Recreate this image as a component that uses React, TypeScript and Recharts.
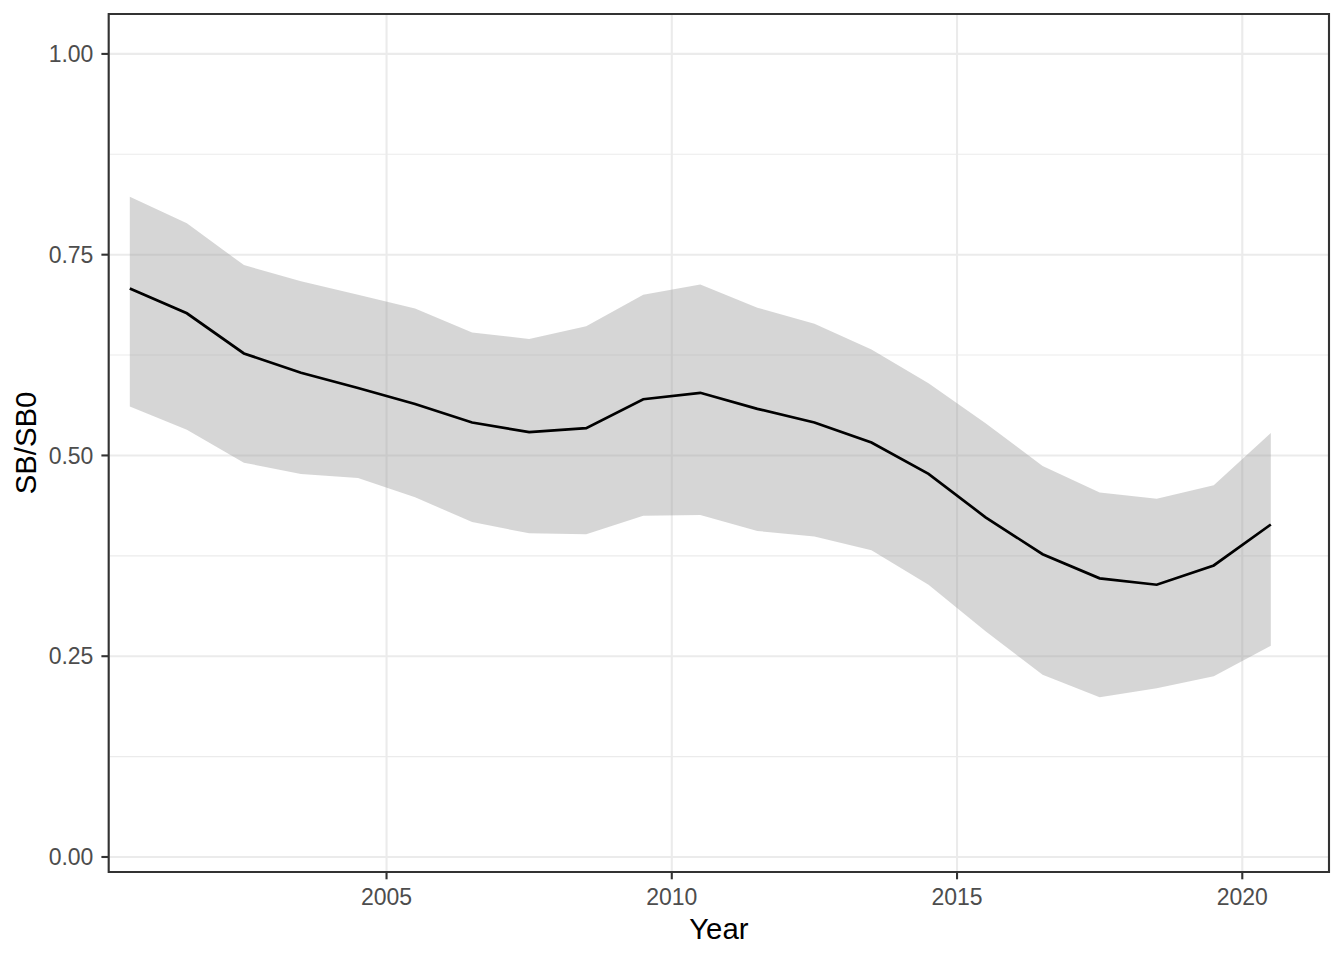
import React from 'react'
import { ComposedChart, Area, Line, XAxis, YAxis, CartesianGrid, ReferenceArea } from 'recharts'

// years are plotted at mid-year
const years = [
  2000.5, 2001.5, 2002.5, 2003.5, 2004.5, 2005.5, 2006.5, 2007.5, 2008.5, 2009.5, 2010.5,
  2011.5, 2012.5, 2013.5, 2014.5, 2015.5, 2016.5, 2017.5, 2018.5, 2019.5, 2020.5,
]
const estimate = [
  0.708, 0.677, 0.627, 0.603, 0.584, 0.564, 0.541, 0.529, 0.534, 0.570, 0.578,
  0.558, 0.541, 0.516, 0.477, 0.423, 0.377, 0.347, 0.339, 0.363, 0.414,
]
const upper = [
  0.822, 0.789, 0.737, 0.717, 0.700, 0.683, 0.653, 0.645, 0.661, 0.700, 0.713,
  0.684, 0.664, 0.632, 0.590, 0.540, 0.487, 0.454, 0.446, 0.463, 0.528,
]
const lower = [
  0.561, 0.532, 0.491, 0.477, 0.472, 0.448, 0.417, 0.403, 0.402, 0.425, 0.426,
  0.406, 0.399, 0.382, 0.339, 0.281, 0.227, 0.199, 0.210, 0.225, 0.263,
]

const xTicks = [2005, 2010, 2015, 2020]
const xMinorTicks = [2002.5, 2007.5, 2012.5, 2017.5]
const yTicks = [0, 0.25, 0.5, 0.75, 1]
const yMinorTicks = [0.125, 0.375, 0.625, 0.875]

const X_DOMAIN: [number, number] = [2000.13, 2021.52]
const Y_DOMAIN: [number, number] = [-0.0187, 1.0497]

const data = years.map((year, i) => ({
  year,
  est: estimate[i],
  band: [lower[i], upper[i]],
}))

const FONT = '"Liberation Sans", Arial, sans-serif'
const tickStyle = { fontSize: 23, fill: '#4D4D4D', fontFamily: FONT }

export default function App() {
  return (
    <div style={{ position: 'absolute', left: 0, top: 0 }}>
      <ComposedChart
        width={1344}
        height={960}
        data={data}
        margin={{ top: 14, right: 15, left: 0, bottom: 0 }}
      >
        {/* minor grid (hidden axes just carry the minor ticks) */}
        <XAxis xAxisId="minor" type="number" domain={X_DOMAIN} ticks={xMinorTicks} allowDataOverflow hide />
        <YAxis yAxisId="minor" type="number" domain={Y_DOMAIN} ticks={yMinorTicks} allowDataOverflow hide />
        <CartesianGrid xAxisId="minor" yAxisId="minor" stroke="#EBEBEB" strokeWidth={1.1} />
        <CartesianGrid stroke="#EBEBEB" strokeWidth={2.1} />

        <XAxis
          dataKey="year"
          type="number"
          domain={X_DOMAIN}
          ticks={xTicks}
          allowDataOverflow
          height={88}
          tickSize={7.3}
          tickMargin={9}
          axisLine={false}
          tickLine={{ stroke: '#333333', strokeWidth: 2.1 }}
          tick={tickStyle}
          label={{
            content: ({ viewBox }: any) => (
              <text
                x={viewBox.x + viewBox.width / 2}
                y={viewBox.y + 56}
                textAnchor="middle"
                dominantBaseline="central"
                fontSize={29.3}
                fontFamily={FONT}
                fill="#000"
              >
                Year
              </text>
            ),
          }}
        />
        <YAxis
          type="number"
          domain={Y_DOMAIN}
          ticks={yTicks}
          allowDataOverflow
          width={108.7}
          tickSize={7.3}
          tickMargin={8}
          axisLine={false}
          tickLine={{ stroke: '#333333', strokeWidth: 2.1 }}
          tick={tickStyle}
          tickFormatter={(v: number) => v.toFixed(2)}
          label={{
            content: ({ viewBox }: any) => {
              const cx = 25.5
              const cy = viewBox.y + viewBox.height / 2
              return (
                <text
                  x={cx}
                  y={cy}
                  transform={`rotate(-90 ${cx} ${cy})`}
                  textAnchor="middle"
                  dominantBaseline="central"
                  fontSize={29.3}
                  fontFamily={FONT}
                  fill="#000"
                >
                  SB/SB0
                </text>
              )
            },
          }}
        />

        <Area
          dataKey="band"
          type="linear"
          stroke="none"
          fill="#999999"
          fillOpacity={0.4}
          isAnimationActive={false}
          activeDot={false}
        />
        <Line
          dataKey="est"
          type="linear"
          stroke="#000000"
          strokeWidth={2.7}
          dot={false}
          activeDot={false}
          isAnimationActive={false}
        />

        {/* panel border */}
        <ReferenceArea
          x1={X_DOMAIN[0]}
          x2={X_DOMAIN[1]}
          y1={Y_DOMAIN[0]}
          y2={Y_DOMAIN[1]}
          fill="none"
          stroke="#333333"
          strokeWidth={2.1}
          ifOverflow="visible"
        />
      </ComposedChart>
    </div>
  )
}
